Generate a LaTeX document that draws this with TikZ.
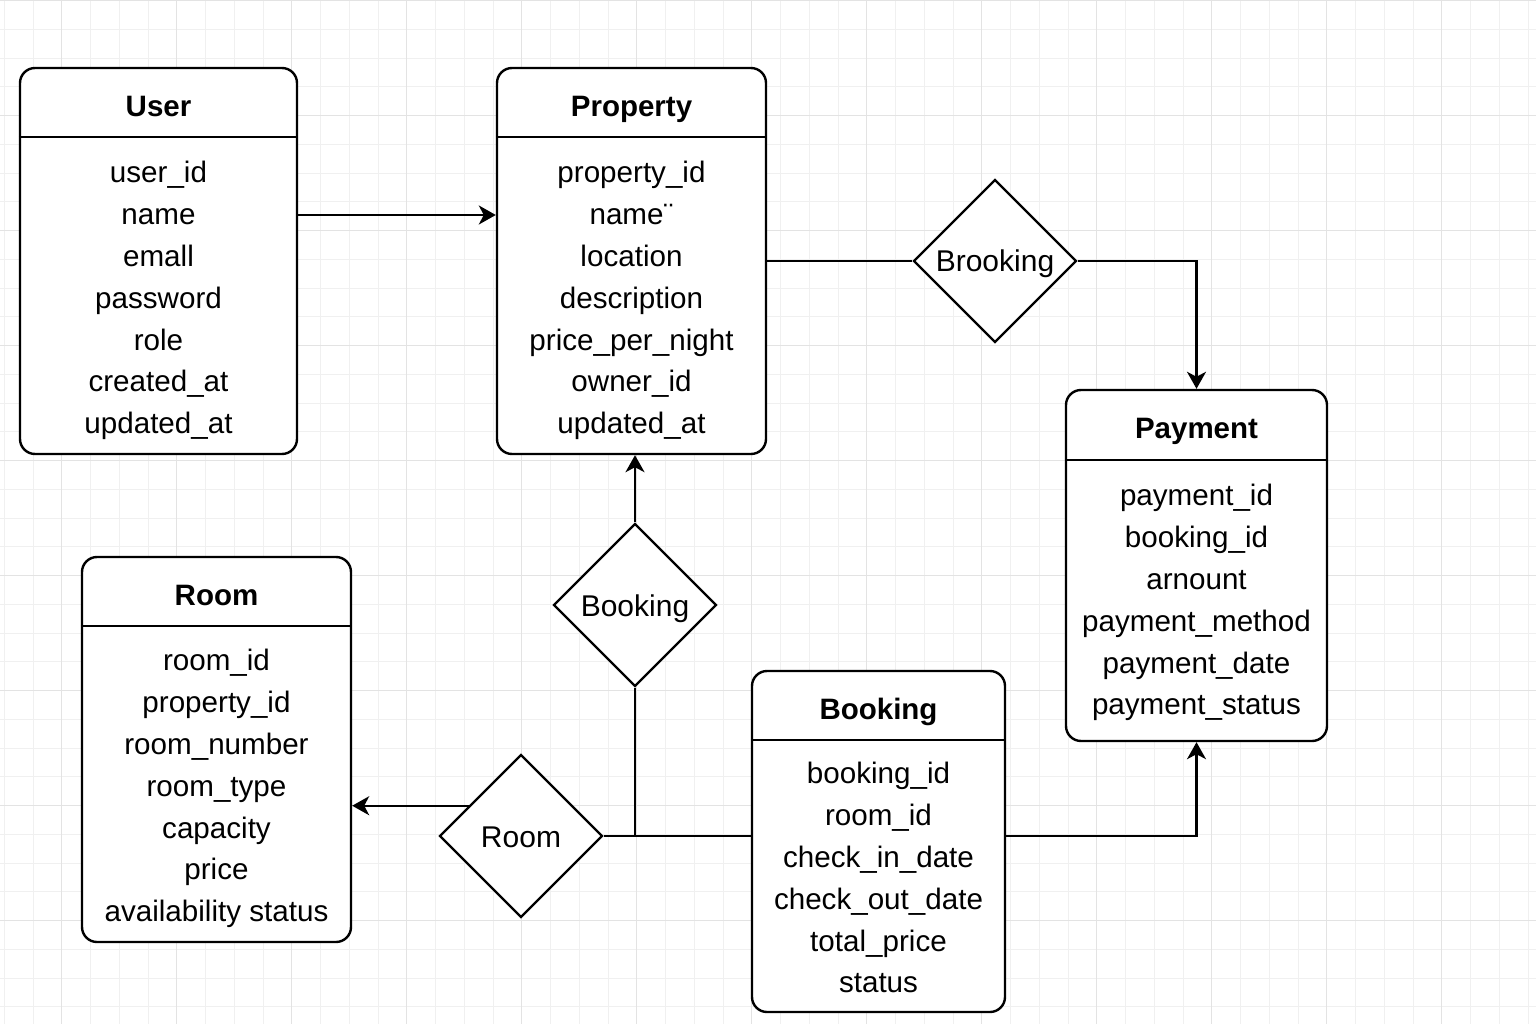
\documentclass[tikz,border=0pt]{standalone}
\usepackage{fontspec}
\setmainfont{Liberation Sans}
\usetikzlibrary{shapes.geometric,arrows.meta,calc}

\tikzset{
  gridminor/.style={draw=black!6, line width=0.8pt},
  gridmajor/.style={draw=black!11, line width=0.9pt},
  entity/.style={draw, line width=2.4pt, rounded corners=15pt, inner sep=0pt},
  etitle/.style={anchor=base, font=\fontsize{29.5}{36}\selectfont\bfseries},
  attr/.style={anchor=base, font=\fontsize{29.6}{36}\selectfont},
  relation/.style={draw, diamond, fill=white, line width=2.4pt, inner sep=0pt,
    minimum width=163pt, minimum height=163pt, text height=22pt, text depth=0pt,
    font=\fontsize{30}{36}\selectfont},
  link/.style={line width=2.4pt},
  arrow/.style={link, -{Stealth[length=17pt, width=19pt, inset=5pt]}},
}

\begin{document}
\begin{tikzpicture}[x=1pt, y=-1pt]
\useasboundingbox (0,0) rectangle (1536,1024);
\fill[white] (0,0) rectangle (1536,1024);

% grid
\draw[gridminor, shift={(4.2,0.5)}] (-10,-10) grid[step=28.75pt] (1540,1030);
\draw[gridmajor, shift={(61.7,0.5)}] (-70,-10) grid[step=115pt] (1480,1030);

% entities
\node[entity, fill=white, minimum width=277pt, minimum height=386pt] (user) at (158.5,261) {};
\draw[link] ([yshift=-70pt]user.north west) -- ([yshift=-70pt]user.north east);
\node[etitle] (user-title) at ($(user.north)+(0,50)$) {User};
\foreach \a [count=\i] in {user\_id,name,emall,password,role,created\_at,updated\_at}
  \node[attr] (user-\i) at ($(user.north)+(0,74.2+41.8*\i)$) {\a};

\node[entity, fill=white, minimum width=269pt, minimum height=386pt] (property) at (631.5,261) {};
\draw[link] ([yshift=-70pt]property.north west) -- ([yshift=-70pt]property.north east);
\node[etitle] (property-title) at ($(property.north)+(0,50)$) {Property};
\foreach \a [count=\i] in {property\_id,name¨,location,description,price\_per\_night,owner\_id,updated\_at}
  \node[attr] (property-\i) at ($(property.north)+(0,74.2+41.8*\i)$) {\a};

\node[entity, fill=white, minimum width=261pt, minimum height=351pt] (payment) at (1196.5,565.5) {};
\draw[link] ([yshift=-71pt]payment.north west) -- ([yshift=-71pt]payment.north east);
\node[etitle] (payment-title) at ($(payment.north)+(0,50)$) {Payment};
\foreach \a [count=\i] in {payment\_id,booking\_id,arnount,payment\_method,payment\_date,payment\_status}
  \node[attr] (payment-\i) at ($(payment.north)+(0,75.2+41.8*\i)$) {\a};

\node[entity, fill=white, minimum width=269pt, minimum height=385pt] (room) at (216.5,749.5) {};
\draw[link] ([yshift=-70pt]room.north west) -- ([yshift=-70pt]room.north east);
\node[etitle] (room-title) at ($(room.north)+(0,50)$) {Room};
\foreach \a [count=\i] in {room\_id,property\_id,room\_number,room\_type,capacity,price,availability status}
  \node[attr] (room-\i) at ($(room.north)+(0,73.2+41.8*\i)$) {\a};

\node[entity, fill=white, minimum width=253pt, minimum height=341pt] (booking) at (878.5,841.5) {};
\draw[link] ([yshift=-70pt]booking.north west) -- ([yshift=-70pt]booking.north east);
\node[etitle] (booking-title) at ($(booking.north)+(0,50)$) {Booking};
\foreach \a [count=\i] in {booking\_id,room\_id,check\_in\_date,check\_out\_date,total\_price,status}
  \node[attr] (booking-\i) at ($(booking.north)+(0,72.2+41.8*\i)$) {\a};

% relations
\node[relation] (brel1) at (995,261) {Brooking};
\node[relation] (brel2) at (635,605) {Booking};
\node[relation] (rrel) at (521,836) {Room};

% connectors
\draw[arrow] ([yshift=46pt]user.east) -- ([yshift=46pt]property.west);
\draw[link] (property.east) -- (brel1.west);
\draw[arrow] (brel1.east) -| (payment.north);
\draw[arrow] (brel2.north) -- (brel2.north |- property.south);
\draw[link] (brel2.south) -- (brel2.south |- rrel.east);
\draw[link] (rrel.east) -- (rrel.east -| booking.west);
\draw[arrow] (rrel.east -| booking.east) -| (payment.south);
\coordinate (rrel-out) at ($(rrel.west)!0.366!(rrel.north)$);
\draw[arrow] (rrel-out) -- (rrel-out -| room.east);
\end{tikzpicture}
\end{document}
